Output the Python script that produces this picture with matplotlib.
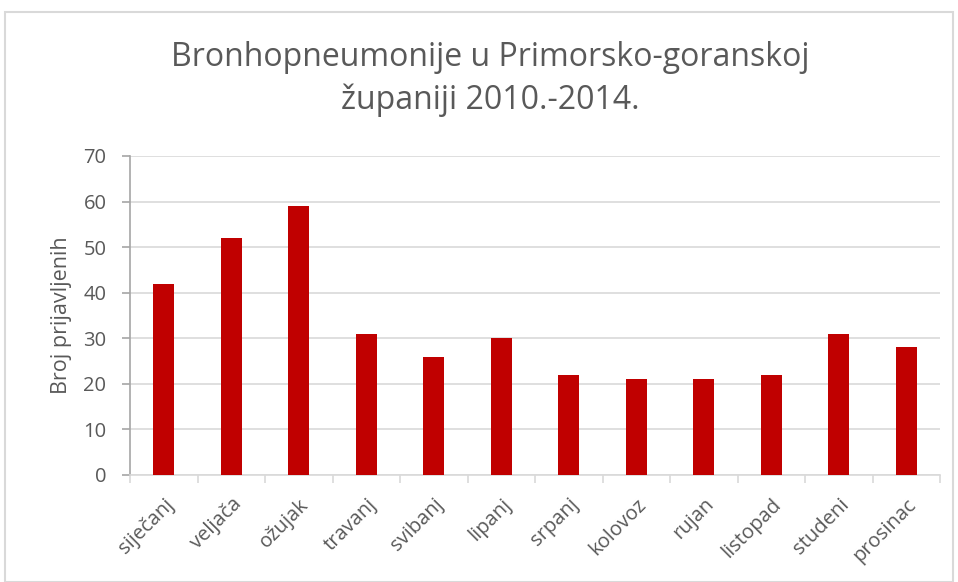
import matplotlib
matplotlib.use("Agg")
import matplotlib.pyplot as plt
from matplotlib.patches import Rectangle

months = ["siječanj", "veljača", "ožujak", "travanj", "svibanj", "lipanj",
          "srpanj", "kolovoz", "rujan", "listopad", "studeni", "prosinac"]
values = [42, 52, 59, 31, 26, 30, 22, 21, 21, 22, 31, 28]
yticks = [0, 10, 20, 30, 40, 50, 60, 70]

plt.rcParams['font.family'] = ['Open Sans', 'DejaVu Sans']

W, H = 958, 582
fig = plt.figure(figsize=(W/100, H/100), dpi=100)
ax = fig.add_axes([130/W, 1-475/H, (940-130)/W, (475-156)/H])

x = list(range(len(months)))
ax.bar(x, values, width=0.31, color="#C00000", zorder=3)
ax.set_xlim(-0.5, len(months)-0.5)
ax.set_ylim(0, 70)
ax.set_yticks(yticks)
ax.set_yticklabels([str(v) for v in yticks], fontsize=14.5, color="#595959")
ax.set_xticks(x)
ax.set_xticklabels(months, rotation=45, ha="right", rotation_mode="anchor",
                   fontsize=14.5, color="#595959")
ax.tick_params(axis='x', length=0, pad=14)
ax.set_xticks([i + 0.5 for i in range(-1, len(months))], minor=True)
ax.tick_params(axis='x', which='minor', length=6, color="#D9D9D9", width=1.2)
ax.tick_params(axis='y', length=6, color="#A6A6A6", width=1.2, pad=11)
ax.grid(axis='y', color="#D9D9D9", linewidth=1.2, zorder=0)
for s in ["top", "right"]:
    ax.spines[s].set_visible(False)
ax.spines["left"].set_color("#A6A6A6")
ax.spines["left"].set_linewidth(1.2)
ax.spines["bottom"].set_color("#D9D9D9")
ax.spines["bottom"].set_linewidth(1.2)
ax.set_ylabel("Broj prijavljenih", fontsize=15.5, color="#595959")
ax.yaxis.set_label_coords((61 - 130) / 810, 0.5)
ax.yaxis.label.set_va("center")

fig.text(490/W, 1-57/H, "Bronhopneumonije u Primorsko-goranskoj", ha="center", va="center",
         fontsize=23, color="#595959")
fig.text(490/W, 1-100/H, "županiji 2010.-2014.", ha="center", va="center",
         fontsize=23, color="#595959")

fig.patches.append(Rectangle((5/W, 0), (953-5)/W, 1-12/H, transform=fig.transFigure,
                             fill=False, edgecolor="#D9D9D9", linewidth=1.5))

fig.savefig("out.png", dpi=100)
